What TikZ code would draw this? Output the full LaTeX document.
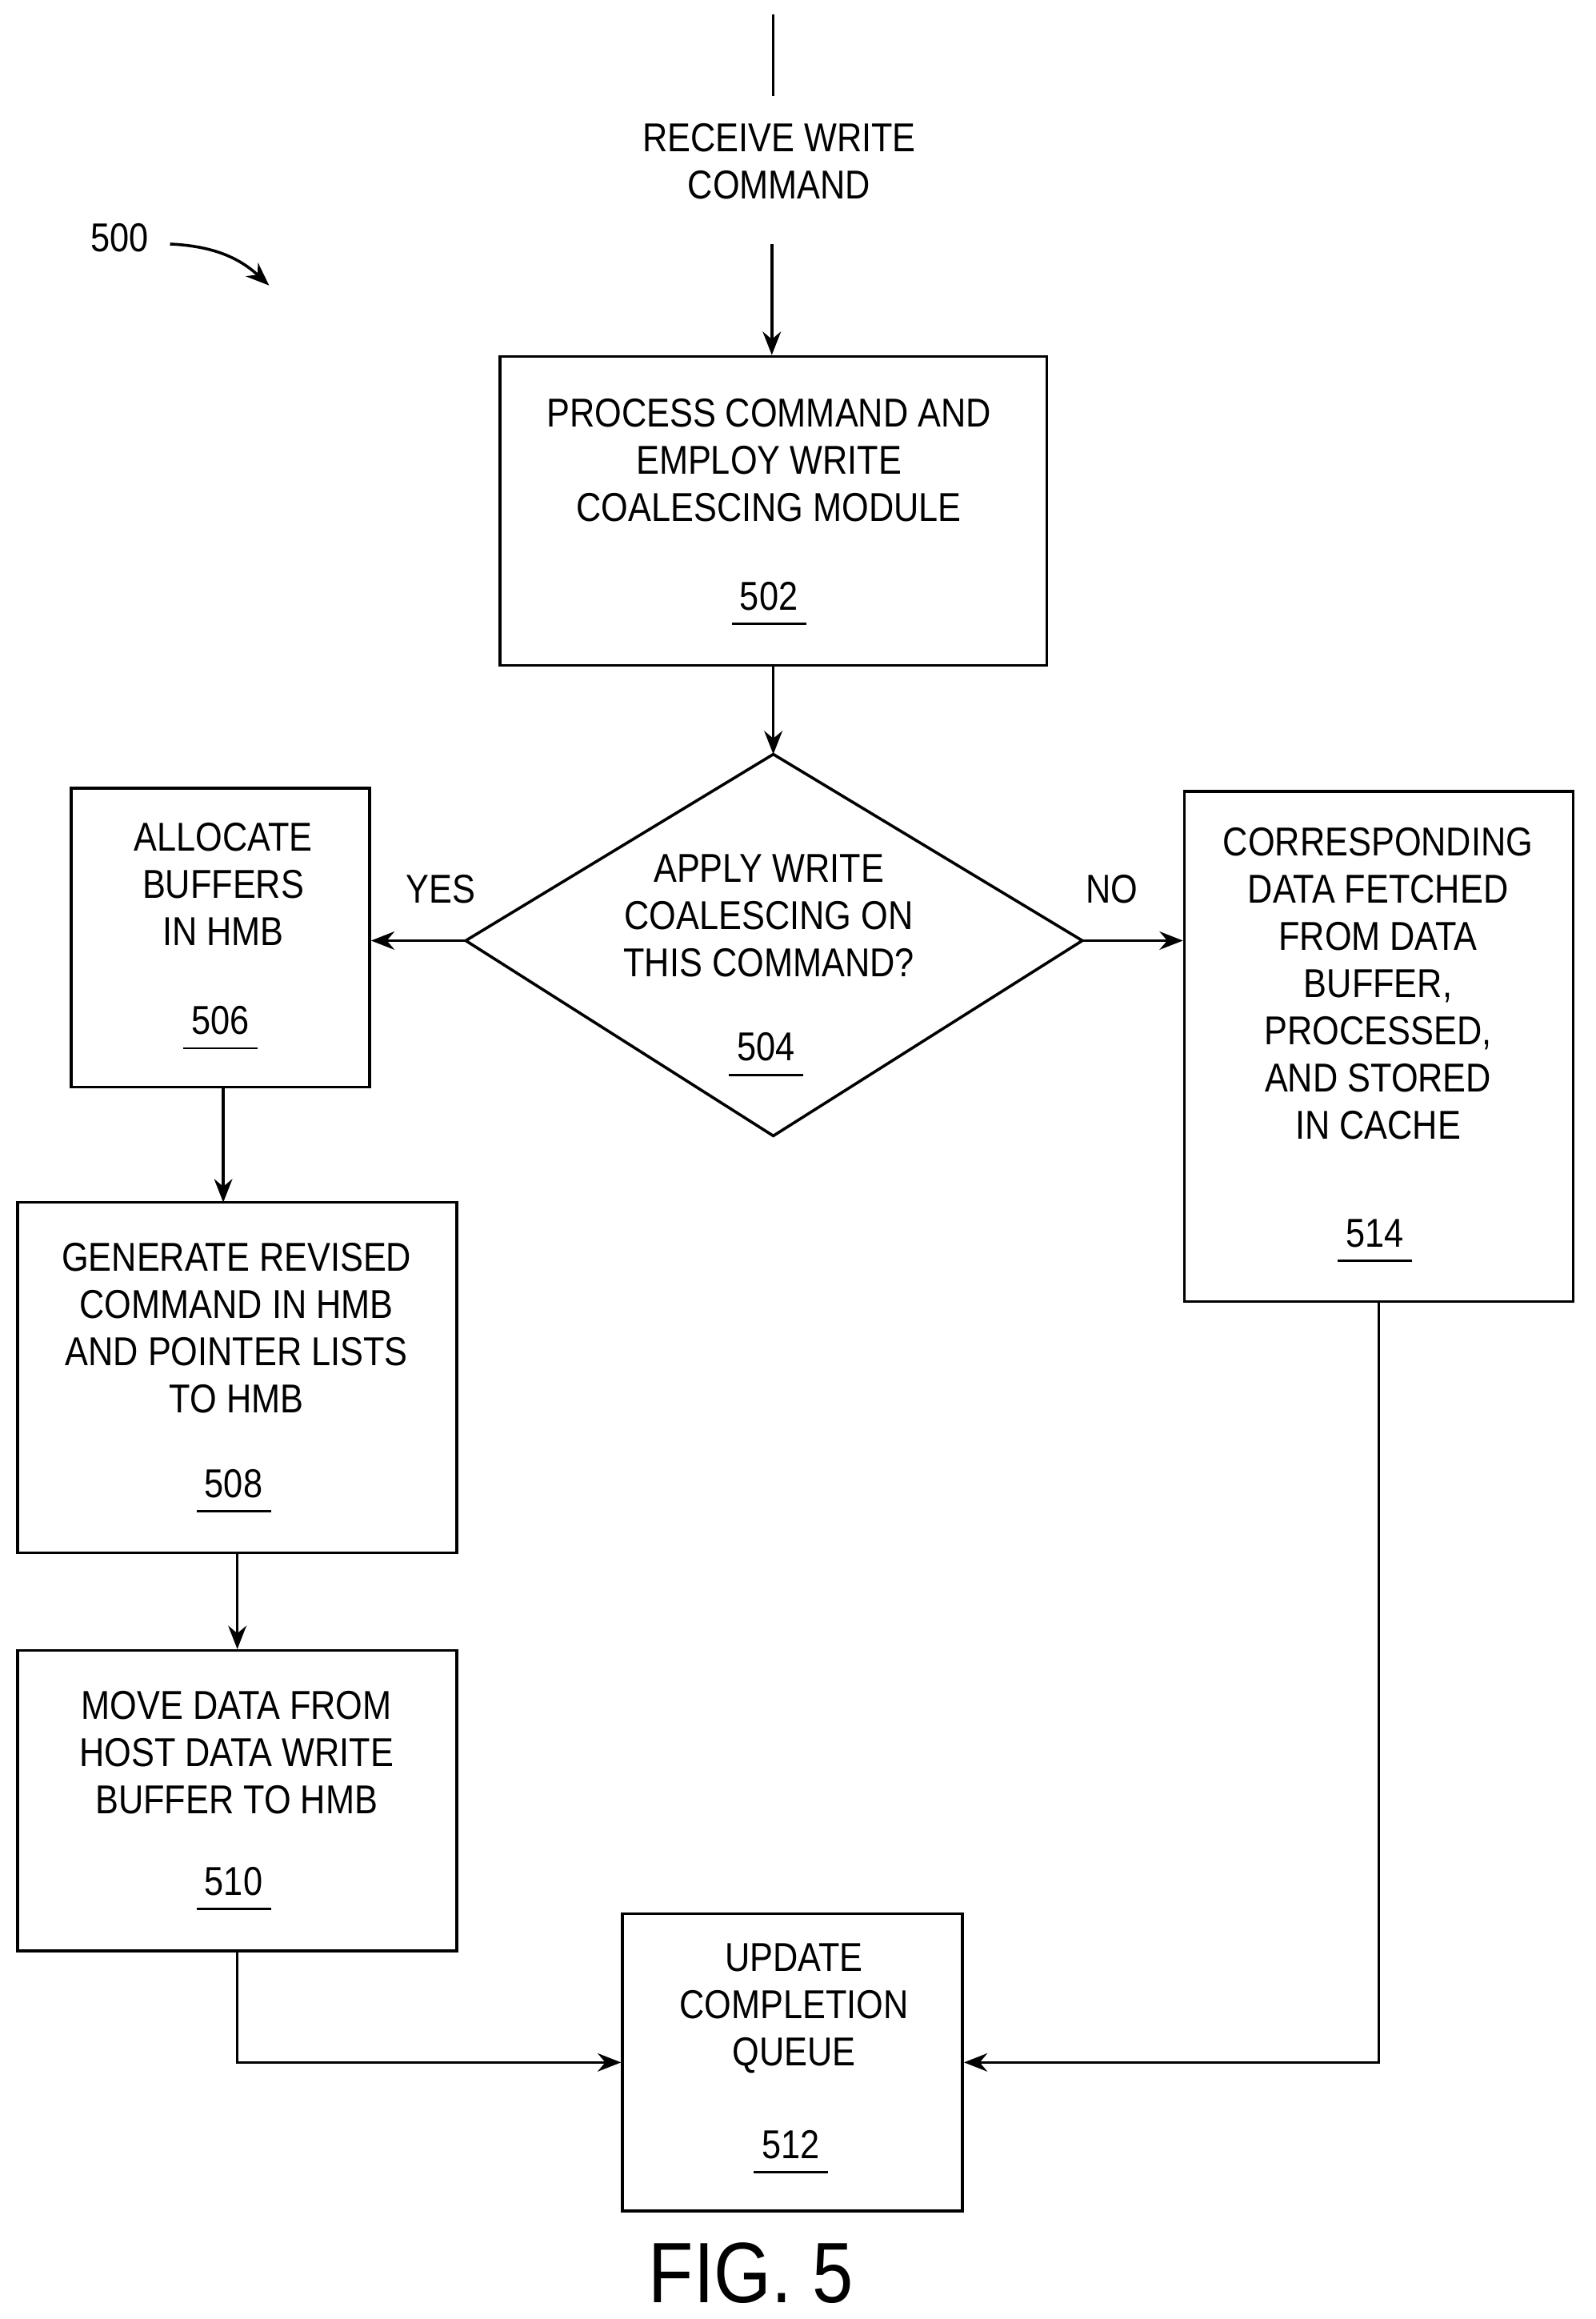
\documentclass[tikz,border=0pt]{standalone}
\usepackage{fontspec}
\setmainfont{Liberation Sans}[FakeStretch=0.86]
\usetikzlibrary{arrows.meta}
\begin{document}
\begin{tikzpicture}[x=0.02cm,y=-0.02cm,
  box/.style={draw,line width=1.1pt},
  txt/.style={align=center,font=\fontsize{15.5}{18.2}\selectfont,inner sep=0pt},
  num/.style={font=\fontsize{15.5}{18.2}\selectfont,inner sep=0pt},
  arr/.style={line width=1.1pt,-{Stealth[length=9pt,width=7pt]}},
  ln/.style={line width=1.1pt}]
\useasboundingbox (0,0) rectangle (1079,1568);
\newcommand{\numl}[3]{\node[num] (#1) at (#2) {#3};
  \draw[line width=0.9pt] ([xshift=-3pt,yshift=-5pt]#1.south west) -- ([xshift=3pt,yshift=-5pt]#1.south east);}
% start
\coordinate (s) at (523,10);
\coordinate (s2) at (523,65);
\draw[ln] (s) -- (s2);
\node[txt] (rw) at (527,109) {RECEIVE WRITE\\COMMAND};
\coordinate (a0) at (522,165);
% 502
\node[box,minimum width=7.4cm,minimum height=4.18cm] (b502) at (523,345.5) {};
\node[txt] (t502) at (520,311) {PROCESS COMMAND AND\\EMPLOY WRITE\\COALESCING MODULE};
\numl{n502}{520,403}{502}
\draw[arr] (a0) -- (b502.north -| a0);
% diamond
\coordinate (dt) at (523,510);
\coordinate (dl) at (315,636);
\coordinate (dr) at (732,636);
\coordinate (db) at (523,768);
\draw[ln] (dt) -- (dr) -- (db) -- (dl) -- cycle;
\node[txt] (t504) at (520,619) {APPLY WRITE\\COALESCING ON\\THIS COMMAND?};
\numl{n504}{518,708}{504}
\draw[arr] (b502.south -| dt) -- (dt);
% 506
\node[box,minimum width=4.04cm,minimum height=4.04cm] (b506) at (149,634) {};
\node[txt] (t506) at (151,598) {ALLOCATE\\BUFFERS\\IN HMB};
\numl{n506}{149,690}{506}
\draw[arr] (dl) -- (b506.east |- dl);
\node[txt] (yes) at (298,601) {YES};
% 514
\node[box,minimum width=5.26cm,minimum height=6.9cm] (b514) at (932.5,707.5) {};
\node[txt] (t514) at (932,665) {CORRESPONDING\\DATA FETCHED\\FROM DATA\\BUFFER,\\PROCESSED,\\AND STORED\\IN CACHE};
\numl{n514}{930,834}{514}
\draw[arr] (dr) -- (b514.west |- dr);
\node[txt] (no) at (752,601) {NO};
% 508
\node[box,minimum width=5.94cm,minimum height=4.74cm] (b508) at (160.5,931.5) {};
\node[txt] (t508) at (160,898) {GENERATE REVISED\\COMMAND IN HMB\\AND POINTER LISTS\\TO HMB};
\numl{n508}{158,1003}{508}
\draw[arr] (b506.south -| 151,0) -- (151,813);
% 510
\node[box,minimum width=5.94cm,minimum height=4.06cm] (b510) at (160.5,1217.5) {};
\node[txt] (t510) at (160,1185) {MOVE DATA FROM\\HOST DATA WRITE\\BUFFER TO HMB};
\numl{n510}{158,1272}{510}
\draw[arr] (b508.south) -- (b510.north);
% 512
\node[box,minimum width=4.6cm,minimum height=4.02cm] (b512) at (536,1394.5) {};
\node[txt] (t512) at (537,1358) {UPDATE\\COMPLETION\\QUEUE};
\numl{n512}{535,1450}{512}
\draw[arr] (b510.south) |- (b512.west);
\draw[arr] (b514.south) |- (b512.east);
% labels
\node[font=\fontsize{33}{38}\selectfont,inner sep=0pt] (fig) at (508,1537) {FIG. 5};
\node[num] (l500) at (81,161) {500};
\coordinate (c1) at (115,165);
\coordinate (c2) at (182,193);
\draw[arr] (c1) to[bend left=20] (c2);
\end{tikzpicture}
\end{document}
